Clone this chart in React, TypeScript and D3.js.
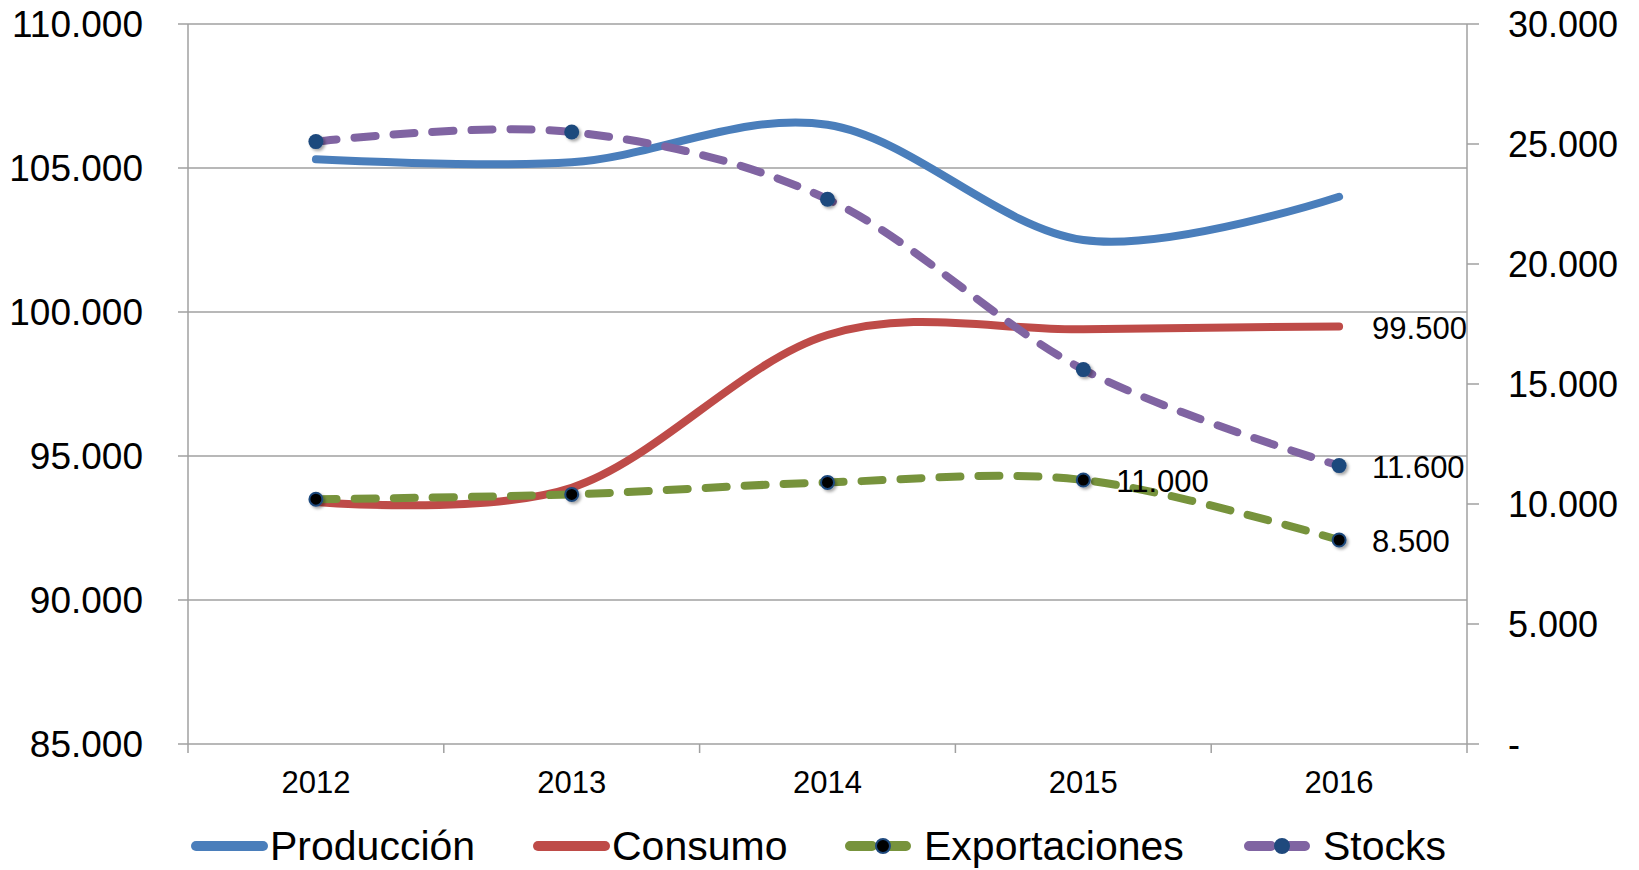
import React from 'react';
import * as d3 from 'd3';

// values
const years = ["2012", "2013", "2014", "2015", "2016"];
const produccion = [105300, 105200, 106500, 102500, 104000];
const consumo = [93400, 93900, 99200, 99400, 99500];
const exportaciones = [10200, 10400, 10900, 11000, 8500];
const stocks = [25100, 25500, 22700, 15600, 11600];

const leftTicks = [85000, 90000, 95000, 100000, 105000, 110000];
const rightTicks = [0, 5000, 10000, 15000, 20000, 25000, 30000];

const W = 1639;
const H = 870;
const plot = {left: 188, right: 1467, top: 24, bottom: 744};
const FONT = '"Liberation Sans", Arial, Helvetica, sans-serif';

const locale = d3.formatLocale({decimal: ",", thousands: ".", grouping: [3], currency: ["", ""]});
const fmt = locale.format(",.0f");

const COLORS = {
  produccion: "#4a7ebb",
  consumo: "#be4b48",
  exportaciones: "#77933c",
  stocks: "#8064a2",
  marker: "#1f497d",
  axis: "#a0a0a0",
};

interface Pt {
  year: string;
  v: number;
}

const zip = (vals: number[]): Pt[] => years.map((y, i) => ({year: y, v: vals[i]}));

const App: React.FC = () => {
  const x = d3.scaleBand<string>().domain(years).range([plot.left, plot.right]);
  const cx = (y: string) => x(y)! + x.bandwidth() / 2;
  const yL = d3.scaleLinear([85000, 110000], [plot.bottom, plot.top]);
  const yR = d3.scaleLinear([0, 30000], [plot.bottom, plot.top]);

  const curve = d3.curveCardinal.tension(0);
  const lineL = d3.line<Pt>().x(d => cx(d.year)).y(d => yL(d.v)).curve(curve);
  const lineR = d3.line<Pt>().x(d => cx(d.year)).y(d => yR(d.v)).curve(curve);

  const boundaries = [...years.map(y => x(y)!), plot.right];

  const labels = [
    {x: cx("2016"), y: yL(consumo[4]), text: fmt(consumo[4])},
    {x: cx("2015"), y: yR(exportaciones[3]), text: fmt(exportaciones[3])},
    {x: cx("2016"), y: yR(stocks[4]), text: fmt(stocks[4])},
    {x: cx("2016"), y: yR(exportaciones[4]), text: fmt(exportaciones[4])},
  ];

  const legend = [
    {name: "Producción", color: COLORS.produccion, dashed: false, marker: null as string | null, x: 191},
    {name: "Consumo", color: COLORS.consumo, dashed: false, marker: null, x: 533},
    {name: "Exportaciones", color: COLORS.exportaciones, dashed: true, marker: "#000", x: 845},
    {name: "Stocks", color: COLORS.stocks, dashed: true, marker: COLORS.marker, x: 1244},
  ];

  return (
    <svg width={W} height={H} style={{position: 'absolute', left: 0, top: 0, background: '#fff'}}
         fontFamily={FONT}>
      <defs>
        <filter id="shadow" x="-50%" y="-50%" width="200%" height="200%">
          <feDropShadow dx="2" dy="2" stdDeviation="1.5" floodColor="#000" floodOpacity="0.35"/>
        </filter>
      </defs>

      {/* gridlines */}
      {leftTicks.filter(t => t !== 85000).map(t => (
        <line key={t} x1={plot.left} x2={plot.right} y1={yL(t)} y2={yL(t)} stroke={COLORS.axis} strokeWidth={1.5}/>
      ))}

      {/* left axis */}
      <line x1={plot.left} x2={plot.left} y1={plot.top} y2={plot.bottom} stroke={COLORS.axis} strokeWidth={1.5}/>
      {leftTicks.map(t => (
        <g key={t}>
          <line x1={plot.left - 10} x2={plot.left} y1={yL(t)} y2={yL(t)} stroke={COLORS.axis} strokeWidth={1.5}/>
          <text x={143} y={yL(t)} dy="0.36em" textAnchor="end" fontSize={37} fill="#000">{fmt(t)}</text>
        </g>
      ))}

      {/* right axis */}
      <line x1={plot.right} x2={plot.right} y1={plot.top} y2={plot.bottom} stroke={COLORS.axis} strokeWidth={1.5}/>
      {rightTicks.map(t => (
        <g key={t}>
          <line x1={plot.right} x2={plot.right + 12} y1={yR(t)} y2={yR(t)} stroke={COLORS.axis} strokeWidth={1.5}/>
          <text x={1508} y={yR(t)} dy="0.36em" textAnchor="start" fontSize={36} fill="#000">{t === 0 ? "-" : fmt(t)}</text>
        </g>
      ))}

      {/* x axis */}
      <line x1={plot.left} x2={plot.right} y1={plot.bottom} y2={plot.bottom} stroke={COLORS.axis} strokeWidth={1.5}/>
      {boundaries.map((b, i) => (
        <line key={i} x1={b} x2={b} y1={plot.bottom} y2={plot.bottom + 9} stroke={COLORS.axis} strokeWidth={1.5}/>
      ))}
      {years.map(y => (
        <text key={y} x={cx(y)} y={793} textAnchor="middle" fontSize={31} fill="#000">{y}</text>
      ))}

      {/* primary series */}
      <path d={lineL(zip(produccion))!} fill="none" stroke={COLORS.produccion} strokeWidth={8} strokeLinecap="round"/>
      <path d={lineL(zip(consumo))!} fill="none" stroke={COLORS.consumo} strokeWidth={8} strokeLinecap="round"/>

      {/* secondary series */}
      <path d={lineR(zip(exportaciones))!} fill="none" stroke={COLORS.exportaciones} strokeWidth={8}
            strokeLinecap="round" strokeDasharray="21 18"/>
      <path d={lineR(zip(stocks))!} fill="none" stroke={COLORS.stocks} strokeWidth={8}
            strokeLinecap="round" strokeDasharray="21 18"/>

      {zip(exportaciones).map(d => (
        <circle key={d.year} cx={cx(d.year)} cy={yR(d.v)} r={6.5} fill="#000" stroke={COLORS.marker}
                strokeWidth={2} filter="url(#shadow)"/>
      ))}
      {zip(stocks).map(d => (
        <circle key={d.year} cx={cx(d.year)} cy={yR(d.v)} r={7.5} fill={COLORS.marker} filter="url(#shadow)"/>
      ))}

      {/* data labels */}
      {labels.map((l, i) => (
        <text key={i} x={l.x + 33} y={l.y} dy="0.4em" fontSize={31} fill="#000">{l.text}</text>
      ))}

      {/* legend */}
      {legend.map(item => (
        <g key={item.name} transform={`translate(${item.x},846)`}>
          <line x1={5} x2={72} y1={0} y2={0} stroke={item.color} strokeWidth={10} strokeLinecap="round"
                strokeDasharray={item.dashed ? "22 12" : undefined}/>
          {item.marker && (
            <circle cx={38} cy={0} r={7} fill={item.marker} stroke={COLORS.marker} strokeWidth={2}/>
          )}
          <text x={79} y={14} fontSize={41} fill="#000">{item.name}</text>
        </g>
      ))}
    </svg>
  );
};

export default App;
